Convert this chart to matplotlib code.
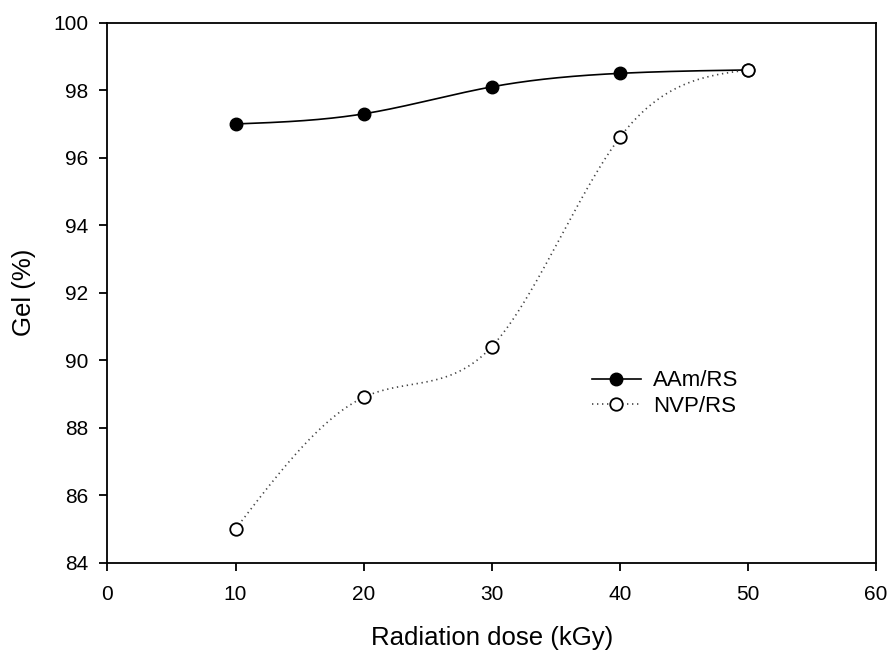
import numpy as np
import matplotlib
matplotlib.use("Agg")
import matplotlib.pyplot as plt
from matplotlib.lines import Line2D

plt.rcParams["font.family"] = ["Liberation Sans", "DejaVu Sans"]

# ── Data ────────────────────────────────────────────────────────────────
DOSE = [10, 20, 30, 40, 50]
AAM_RS = [97.0, 97.3, 98.1, 98.5, 98.6]
NVP_RS = [85.0, 88.9, 90.4, 96.6, 98.6]

X_TICKS = [0, 10, 20, 30, 40, 50, 60]
Y_TICKS = [84, 86, 88, 90, 92, 94, 96, 98, 100]


def natural_spline(x, y, n=300):
    """Natural cubic spline through the points, for drawing a smooth curve."""
    x = np.asarray(x, float)
    y = np.asarray(y, float)
    k = len(x)
    h = np.diff(x)
    A = np.zeros((k, k))
    b = np.zeros(k)
    A[0, 0] = A[-1, -1] = 1.0
    for i in range(1, k - 1):
        A[i, i - 1] = h[i - 1]
        A[i, i] = 2 * (h[i - 1] + h[i])
        A[i, i + 1] = h[i]
        b[i] = 3 * ((y[i + 1] - y[i]) / h[i] - (y[i] - y[i - 1]) / h[i - 1])
    c = np.linalg.solve(A, b)
    xs = np.linspace(x[0], x[-1], n)
    ys = np.empty_like(xs)
    for j, xv in enumerate(xs):
        i = min(np.searchsorted(x, xv, side="right") - 1, k - 2)
        dx = xv - x[i]
        bi = (y[i + 1] - y[i]) / h[i] - h[i] * (2 * c[i] + c[i + 1]) / 3
        di = (c[i + 1] - c[i]) / (3 * h[i])
        ys[j] = y[i] + bi * dx + c[i] * dx**2 + di * dx**3
    return xs, ys


DOTTED = (0, (0.8, 2.2))

fig = plt.figure(figsize=(8.88, 6.51), dpi=100)
ax = fig.add_axes([0.121, 0.1356, 0.8655, 0.8295])

# AAm/RS: solid curve, filled markers
sx, sy = natural_spline(DOSE, AAM_RS)
ax.plot(sx, sy, color="black", linewidth=1.2, zorder=2)
ax.plot(DOSE, AAM_RS, "o", color="black", markersize=9, zorder=3)

# NVP/RS: dotted curve, open markers
sx, sy = natural_spline(DOSE, NVP_RS)
ax.plot(sx, sy, color="#444444", linewidth=1.2, linestyle=DOTTED, zorder=2)
ax.plot(DOSE, NVP_RS, "o", markerfacecolor="white", markeredgecolor="black",
        markeredgewidth=1.3, markersize=9, zorder=3)

ax.set_xlim(0, 60)
ax.set_ylim(84, 100)
ax.set_xticks(X_TICKS)
ax.set_yticks(Y_TICKS)
ax.tick_params(direction="out", length=6, width=1.3, labelsize=15,
               top=False, right=False)
ax.tick_params(axis="x", pad=10)
ax.tick_params(axis="y", pad=8)
for spine in ax.spines.values():
    spine.set_linewidth(1.3)

ax.set_xlabel("Radiation dose (kGy)", fontsize=18.5, labelpad=16)
ax.set_ylabel("Gel (%)", fontsize=18.5, labelpad=12)

handles = [
    Line2D([0], [0], color="black", linewidth=1.2, marker="o", markersize=9,
           label="AAm/RS"),
    Line2D([0], [0], color="#444444", linewidth=1.2, linestyle=DOTTED,
           marker="o", markerfacecolor="white", markeredgecolor="black",
           markeredgewidth=1.3, markersize=9, label="NVP/RS"),
]
ax.legend(handles=handles, loc="center left", bbox_to_anchor=(0.630, 0.313),
          frameon=False, fontsize=16, handlelength=2.2, handletextpad=0.55,
          labelspacing=0.2, borderpad=0, borderaxespad=0)

fig.savefig("out.png", dpi=100, facecolor="white")
